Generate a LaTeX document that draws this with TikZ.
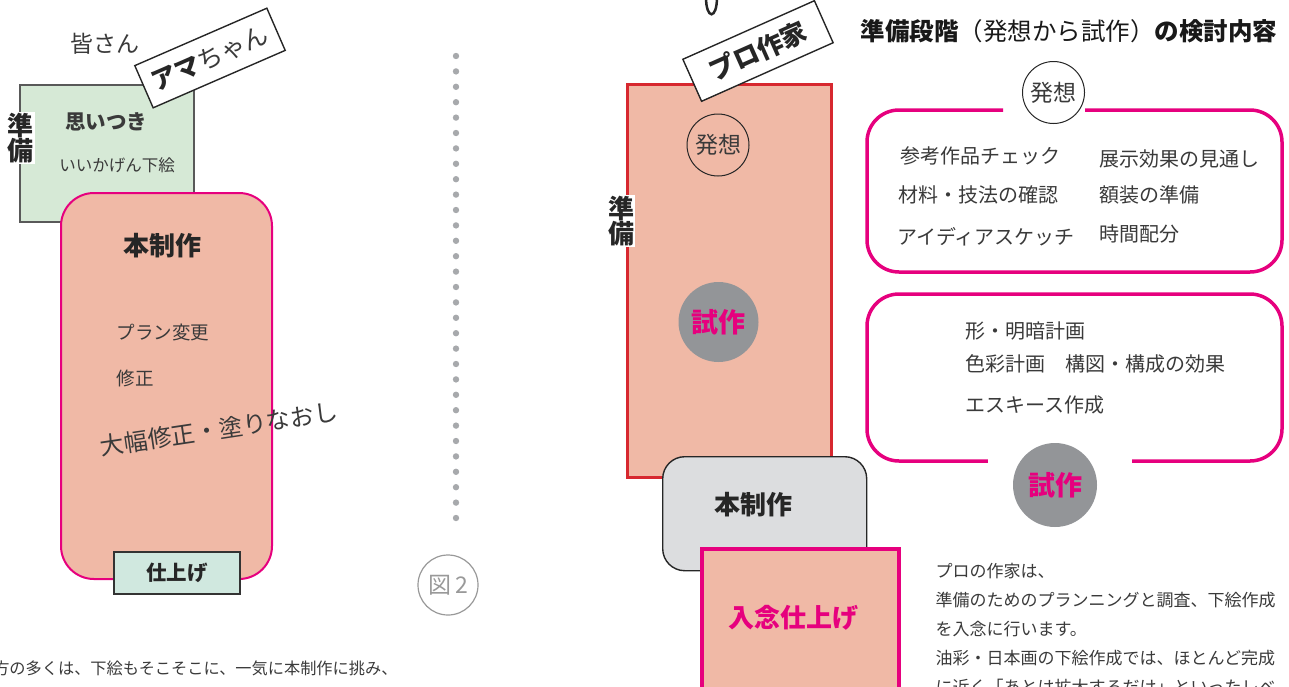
\documentclass[tikz,border=0pt]{standalone}
\usepackage{fontspec}
\setmainfont{Noto Sans CJK JP}
\usetikzlibrary{positioning}

\definecolor{salmon}{HTML}{F0B9A6}
\definecolor{pinkline}{HTML}{E6007E}
\definecolor{redline}{HTML}{D7282F}
\definecolor{mint}{HTML}{D6E9D6}
\definecolor{mintb}{HTML}{D0E8DF}
\definecolor{ballgray}{HTML}{939598}
\definecolor{boxgray}{HTML}{DCDDDF}
\definecolor{dotgray}{HTML}{A7A9AC}
\definecolor{ink}{HTML}{3A3A3A}

\newcommand\fsz[1]{\fontsize{#1}{#1}\selectfont}

\tikzset{
  corner/.style={anchor=north west, inner sep=0pt},
  greenbox/.style={corner, draw=black!65, fill=mint, line width=1.6pt},
  salmonbox/.style={corner, draw=pinkline, fill=salmon, line width=2pt, rounded corners=33pt},
  shiagebox/.style={corner, draw=black!80, fill=mintb, line width=1.6pt},
  tagbox/.style={draw=black!85, fill=white, line width=1.4pt, inner sep=0pt,
    minimum width=144pt, minimum height=46pt},
  vlabel/.style={fill=white, inner sep=1pt, align=center, font=\fsz{26}\bfseries,
    text=black!85},
  ring/.style={circle, draw=black!85, line width=1pt, minimum size=62pt, inner sep=0pt,
    font=\fsz{23}},
  ball/.style={circle, fill=ballgray, minimum size=80pt, inner sep=0pt,
    font=\fsz{27}\bfseries, text=pinkline},
  outline/.style={draw=pinkline, line width=3.5pt, rounded corners=32pt},
  item/.style={font=\fsz{20}},
  body/.style={anchor=west, font=\fsz{17}},
}

\begin{document}
\begin{tikzpicture}[x=1pt, y=-1pt, text=ink]
\useasboundingbox (0,0) rectangle (1289,686);
\clip (0,0) rectangle (1289,686);

% Amateur side
\node[font=\fsz{23}] (minasan) at (105,44) {皆さん};
\node[greenbox, minimum width=174pt, minimum height=137pt] (junbiL) at (19,84) {};
\node[font=\fsz{20.5}\bfseries] (omoi) at (106,122) {思いつき};
\node[font=\fsz{16.5}] (shitae) at (117,165) {いいかげん下絵};
\node[salmonbox, minimum width=211pt, minimum height=386pt] (honL) at (60,192) {};
\node[font=\fsz{26}\bfseries, text=black!85] (honLt) at (162,246) {本制作};
\node[font=\fsz{18.5}, anchor=west] (plan) at (113,332) {プラン変更};
\node[font=\fsz{18.5}, anchor=west] (shusei) at (113,378) {修正};
\node[font=\fsz{24}, rotate=8.5] (ohaba) at (219,429) {大幅修正・塗りなおし};
\node[shiagebox, minimum width=126pt, minimum height=42pt] (shiage) at (113,551) {};
\node[font=\fsz{20.5}\bfseries, text=black!85] at (shiage.center) {仕上げ};
\node[vlabel, font=\fsz{26}\bfseries] (junL) at (21,138) {準\\[-1pt]備};
\node[tagbox, rotate=23.5] (ama) at (210,58)
  {\fsz{25}\textcolor{black!85}{\bfseries アマ}ちゃん};

% dotted divider
\coordinate (dtop) at (456,56);
\coordinate (dbot) at (456,518);
\draw[dotgray, line width=6.4pt, line cap=round, dash pattern=on 0pt off 15.4pt]
  (dtop) -- (dbot);
\node[circle, draw=black!40, line width=1.2pt, minimum size=60pt, inner sep=0pt,
  text=black!40, font=\fsz{23}] (zu) at (448,585) {図\,2};

\node[body, anchor=east, font=\fsz{16.2}] (noteL) at (401,668)
  {方の多くは、下絵もそこそこに、一気に本制作に挑み、};

% Professional side
\draw[black!85, line width=2.5pt, line cap=round]
  (706,-3) .. controls (706,20) and (717,20) .. (717,-3);
\node[corner, draw=redline, fill=salmon, line width=3pt,
  minimum width=204pt, minimum height=393pt] (redbox) at (626,83) {};
\node[ring] (hassoA) at (718,145) {発想};
\node[ball] (shisakuA) at (718.5,322) {試作};
\node[corner, draw=black!85, fill=boxgray, line width=1.4pt, rounded corners=22pt,
  minimum width=204pt, minimum height=114pt] (honR) at (662,456) {};
\node[font=\fsz{26}\bfseries, text=black!85] at (753,505) {本制作};
\node[corner, draw=pinkline, fill=salmon, line width=3.5pt,
  minimum width=197pt, minimum height=170pt] (nyunen) at (700,547) {};
\node[font=\fsz{26}\bfseries, text=pinkline] at (793,618) {入念仕上げ};
\node[vlabel] (junR) at (621,221) {準\\[-1pt]備};
\node[tagbox, rotate=24, font=\fsz{26}\bfseries, text=black!85] (pro) at (758,51) {プロ作家};

% Planning panel
\node[font=\fsz{24.5}, text=black!90] (title) at (1069,31)
  {{\bfseries 準備段階}（発想から試作）{\bfseries の検討内容}};
\node[ring] (hassoB) at (1053.5,92.5) {発想};
\draw[outline] (hassoB.east |- 0,110) -- (1282,110) -- (1282,272) -- (867,272)
  -- (867,110) -- ([xshift=-19pt]hassoB.west |- 0,110);
\node[item] at (980,156) {参考作品チェック};
\node[item] at (978,195) {材料・技法の確認};
\node[item] at (986,237) {アイディアスケッチ};
\node[item, anchor=west] at (1096,159) {展示効果の見通し};
\node[item, anchor=west] at (1096,195) {額装の準備};
\node[item, anchor=west] at (1096,234) {時間配分};

\node[ball, minimum size=84pt] (shisakuB) at (1055,485) {試作};
\draw[outline] ([xshift=35pt]shisakuB.east |- 0,461) -- (1282,461) -- (1282,294)
  -- (867,294) -- (867,461) -- ([xshift=-25pt]shisakuB.west |- 0,461);
\node[item, anchor=west] at (962,331) {形・明暗計画};
\node[item, anchor=west] at (962,364) {色彩計画　構図・構成の効果};
\node[item, anchor=west] at (962,405) {エスキース作成};

% notes
\node[body] (n1) at (932,571) {プロの作家は、};
\node[body] (n2) at (932,600) {準備のためのプランニングと調査、下絵作成};
\node[body] (n3) at (932,629) {を入念に行います。};
\node[body] (n4) at (932,658) {油彩・日本画の下絵作成では、ほとんど完成};
\node[body] (n5) at (932,687) {に近く「あとは拡大するだけ」といったレベ};

\end{tikzpicture}
\end{document}
